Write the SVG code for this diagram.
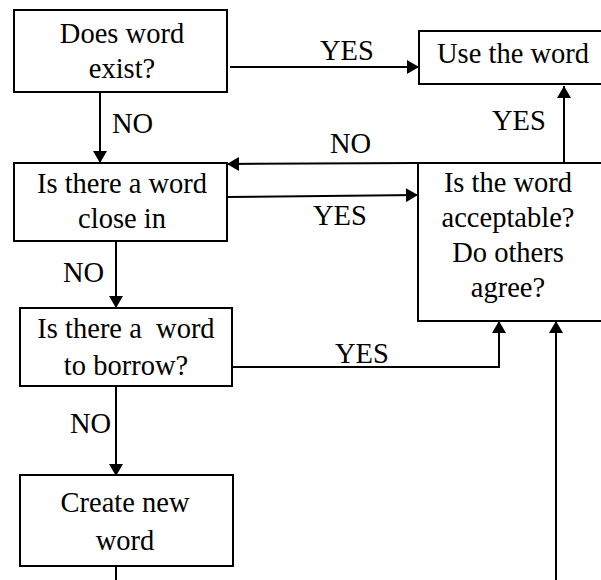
<svg xmlns="http://www.w3.org/2000/svg" width="601" height="580" viewBox="0 0 601 580">
<style>
.box{fill:#fff;stroke:#000;stroke-width:2}
.ln{fill:none;stroke:#000;stroke-width:2}
.c{text-anchor:middle}
text{font-family:"Liberation Serif","Times New Roman",serif;font-size:28.5px;fill:#000}
</style>
<defs>
<marker id="ah" viewBox="0 0 12 14" refX="12" refY="7" markerWidth="12" markerHeight="14" markerUnits="userSpaceOnUse" orient="auto">
<path d="M0,0 L12,7 L0,14 Z" fill="#000"/>
</marker>
</defs>
<rect width="601" height="580" fill="#fff"/>
<g id="n1"><rect class="box" x="14" y="10" width="213" height="82"/>
<text class="c" x="122" y="43">Does word</text><text class="c" x="122" y="78">exist?</text></g>
<g id="n2"><rect class="box" x="419" y="31" width="200" height="53"/>
<text class="c" x="513" y="63">Use the word</text></g>
<g id="n3"><rect class="box" x="14" y="163" width="213" height="78"/>
<text class="c" x="122" y="193">Is there a word</text><text class="c" x="122" y="228">close in</text></g>
<g id="n4"><rect class="box" x="418" y="163" width="200" height="158"/>
<text class="c" x="508" y="192">Is the word</text><text class="c" x="508" y="227">acceptable?</text><text class="c" x="508" y="262">Do others</text><text class="c" x="508" y="297">agree?</text></g>
<g id="n5"><rect class="box" x="20" y="308" width="212" height="78"/>
<text class="c" x="126" y="338" xml:space="preserve">Is there a  word</text><text class="c" x="126" y="375">to borrow?</text></g>
<g id="n6"><rect class="box" x="20" y="475" width="213" height="91"/>
<text class="c" x="125" y="512">Create new</text><text class="c" x="125" y="550">word</text></g>
<g id="connectors">
<line class="ln" x1="230" y1="67" x2="419" y2="67" marker-end="url(#ah)"/>
<line class="ln" x1="100" y1="92" x2="100" y2="163" marker-end="url(#ah)"/>
<line class="ln" x1="417" y1="163" x2="227" y2="164" marker-end="url(#ah)"/>
<line class="ln" x1="227" y1="197" x2="418" y2="195" marker-end="url(#ah)"/>
<line class="ln" x1="564" y1="163" x2="564" y2="86" marker-end="url(#ah)"/>
<line class="ln" x1="116" y1="241" x2="116" y2="308" marker-end="url(#ah)"/>
<polyline class="ln" points="232,367 499,367 499,321" marker-end="url(#ah)"/>
<line class="ln" x1="556" y1="580" x2="556" y2="321" marker-end="url(#ah)"/>
<line class="ln" x1="116" y1="386" x2="116" y2="476" marker-end="url(#ah)"/>
<line class="ln" x1="116" y1="566" x2="116" y2="580"/>
<text x="320" y="60">YES</text>
<text x="112" y="133">NO</text>
<text x="330" y="153">NO</text>
<text x="492" y="130">YES</text>
<text x="313" y="225">YES</text>
<text x="63" y="282">NO</text>
<text x="335" y="363">YES</text>
<text x="70" y="433">NO</text>
</g>
</svg>
